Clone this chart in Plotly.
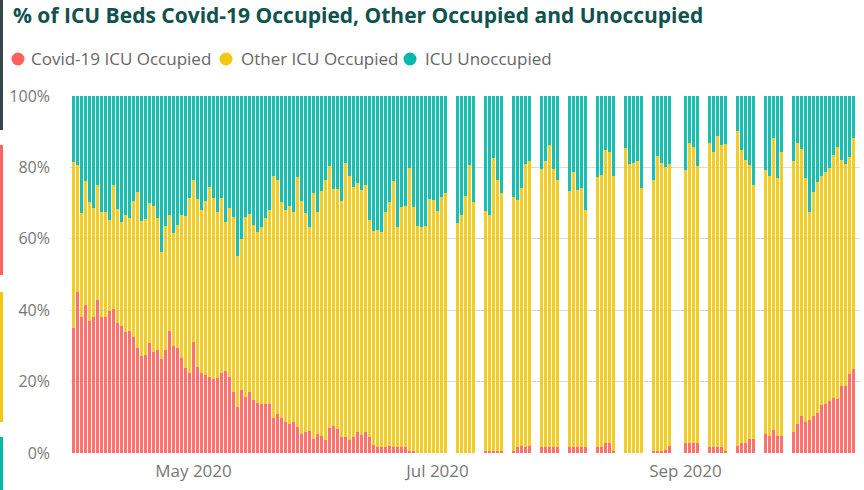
import pandas as pd
import plotly.graph_objects as go

# Reporting days: daily to 3 Jul, weekdays only (bank holiday 31 Aug skipped), daily again from 28 Sep
daily_spring = pd.date_range("2020-04-01", "2020-07-03")
weekday_summer = [d for d in pd.bdate_range("2020-07-06", "2020-09-25")
                  if d != pd.Timestamp("2020-08-31")]
daily_autumn = pd.date_range("2020-09-28", "2020-10-13")
dates = list(daily_spring) + list(weekday_summer) + list(daily_autumn)

# % of ICU beds occupied by Covid-19 patients
covid_pct = [
    35.0, 45.2, 38.0, 41.5, 37.0, 38.2, 42.9, 38.2, 38.2, 39.8,
    40.4, 36.4, 35.7, 34.0, 34.2, 32.6, 29.4, 27.3, 27.5, 30.8,
    28.2, 28.9, 26.4, 28.8, 34.2, 30.1, 29.5, 26.7, 23.8, 22.4,
    31.0, 24.2, 22.5, 21.9, 21.3, 20.8, 21.0, 22.5, 23.0, 21.4,
    17.2, 12.8, 17.7, 15.7, 17.1, 14.9, 14.0, 13.7, 13.6, 13.6,
    9.8, 10.9, 9.8, 8.7, 8.0, 8.6, 7.4, 5.3, 5.8, 6.2,
    4.0, 5.3, 4.8, 3.6, 7.0, 7.7, 6.6, 4.5, 4.5, 3.7,
    4.5, 5.8, 5.1, 5.8, 4.5, 2.3, 1.6, 1.6, 1.6, 2.0,
    1.6, 1.6, 1.6, 1.6, 0.7, 0.7, 0.0, 0.0, 0.0, 0.0,
    0.0, 0.0, 0.0, 0.0,
    # weekdays from 6 Jul
    0.0, 0.0, 0.0, 0.0, 0.0,
    0.7, 0.7, 0.7, 0.7, 0.7,
    0.6, 1.7, 1.9, 1.7, 1.9,
    1.6, 1.6, 1.6, 1.6, 1.6,
    1.6, 1.6, 1.6, 1.6, 1.6,
    1.8, 1.8, 2.8, 2.8, 0.6,
    0.0, 0.0, 0.0, 0.0, 0.0,
    0.6, 0.6, 0.6, 0.8, 1.9,
    2.8, 2.8, 2.8, 2.8,
    1.7, 1.7, 1.7, 1.7, 0.6,
    2.0, 2.9, 2.9, 4.0, 4.0,
    5.3, 4.8, 6.4, 4.8, 4.8,
    # daily from 28 Sep
    6.0, 8.2, 10.4, 8.8, 9.3, 10.5, 11.2, 13.5,
    13.8, 14.7, 15.4, 15.2, 18.8, 18.8, 22.2, 23.5,
]

# % of ICU beds occupied in total (Covid-19 + other patients)
occupied_pct = [
    81.5, 80.6, 67.1, 76.2, 70.3, 68.5, 75.2, 67.4, 67.4, 65.2,
    75.2, 68.3, 64.8, 66.6, 65.7, 70.6, 73.0, 65.0, 65.6, 69.9,
    69.2, 65.9, 56.2, 63.7, 66.6, 61.7, 63.8, 66.6, 66.4, 71.5,
    76.6, 71.1, 68.0, 70.6, 74.6, 71.5, 67.5, 71.5, 64.6, 68.5,
    66.0, 55.2, 59.9, 66.0, 66.9, 63.8, 62.0, 63.2, 65.7, 68.2,
    77.6, 76.4, 70.3, 68.2, 69.2, 67.5, 77.2, 70.6, 67.3, 63.2,
    72.9, 67.5, 73.4, 76.6, 80.5, 73.9, 73.9, 70.6, 81.1, 77.6,
    74.4, 75.5, 73.6, 75.2, 65.2, 62.3, 62.4, 62.0, 67.4, 70.4,
    76.1, 63.2, 69.0, 69.2, 79.7, 69.0, 63.7, 63.4, 63.5, 71.1,
    70.8, 67.8, 71.8, 72.7,
    # weekdays from 6 Jul
    64.3, 66.7, 72.1, 80.6, 70.2,
    67.9, 66.6, 82.6, 76.4, 72.8,
    71.6, 70.8, 74.3, 80.9, 81.8,
    79.5, 81.8, 86.4, 79.6, 76.4,
    73.4, 78.7, 73.8, 74.3, 68.2,
    77.2, 77.8, 85.0, 84.2, 77.5,
    85.3, 80.9, 81.1, 81.8, 74.3,
    76.4, 83.1, 81.3, 80.1, 80.9,
    79.2, 86.7, 85.7, 80.3,
    86.7, 84.2, 88.8, 86.4, 86.5,
    90.2, 85.0, 82.2, 80.8, 75.2,
    79.2, 77.6, 88.1, 76.9, 84.3,
    # daily from 28 Sep
    81.8, 86.7, 85.1, 76.9, 67.4, 73.2, 76.0, 77.5,
    78.6, 79.9, 83.4, 85.7, 82.0, 80.9, 82.9, 88.1,
]

assert len(dates) == len(covid_pct) == len(occupied_pct)

other_pct = [round(t - c, 1) for t, c in zip(occupied_pct, covid_pct)]
unoccupied_pct = [round(100 - t, 1) for t in occupied_pct]

series_names = ["Covid-19 ICU Occupied", "Other ICU Occupied", "ICU Unoccupied"]
series_colors = ["#FD625E", "#F2C80F", "#01B8AA"]
series_values = [covid_pct, other_pct, unoccupied_pct]

y_ticks = [0, 20, 40, 60, 80, 100]
y_tick_text = ["0%", "20%", "40%", "60%", "80%", "100%"]

W, H = 864, 490
M_L, M_R, M_T, M_B = 70, 4, 96, 37
PW, PH = W - M_L - M_R, H - M_T - M_B
FONT = "Open Sans"

# 4 px per day; range chosen so every 3 px bar and 1 px gap lands on whole pixels
PX_PER_DAY = 4.0
first_day = pd.Timestamp("2020-04-01")
x_start = first_day - pd.Timedelta(days=3.5 / PX_PER_DAY)
x_end = x_start + pd.Timedelta(days=PW / PX_PER_DAY)


def px_x(x):
    return (x - M_L) / PW


def px_y(y):
    return (H - M_B - y) / PH


fig = go.Figure()
for name, color, vals in zip(series_names, series_colors, series_values):
    fig.add_trace(go.Bar(
        x=dates, y=vals, name=name, showlegend=False,
        marker=dict(color=color, opacity=0.9, line=dict(width=0)),
        hovertemplate="%{x|%d %b %Y}<br>" + name + ": %{y:.1f}%<extra></extra>",
    ))

shapes = []
annotations = []

# legend: coloured dots with labels
legend_items = [(18, 29), (226, 239), (410, 423)]
for (cx, tx), name, color in zip(legend_items, series_names, series_colors):
    shapes.append(dict(type="circle", xref="paper", yref="paper",
                       x0=px_x(cx - 6.5), x1=px_x(cx + 6.5),
                       y0=px_y(59 + 6.5), y1=px_y(59 - 6.5),
                       fillcolor=color, line=dict(width=0)))
    annotations.append(dict(text=name, xref="paper", yref="paper",
                            x=px_x(tx), y=px_y(59), xanchor="left", yanchor="middle",
                            showarrow=False,
                            font=dict(family=FONT, size=17, color="#666666")))

# title
annotations.append(dict(text="<b>% of ICU Beds Covid-19 Occupied, Other Occupied and Unoccupied</b>",
                        xref="paper", yref="paper", x=px_x(11), y=px_y(15),
                        xanchor="left", yanchor="middle", showarrow=False,
                        font=dict(family=FONT, size=21, color="#0F524E")))

# coloured page strips along the left edge
for y0, y1, color in [(0, 130, "#374649"), (145, 275, "#FD625E"),
                      (292, 422, "#F2C80F"), (437, 490, "#01B8AA")]:
    shapes.append(dict(type="rect", xref="paper", yref="paper",
                       x0=px_x(0), x1=px_x(3), y0=px_y(y1), y1=px_y(y0),
                       fillcolor=color, line=dict(width=0)))

fig.update_layout(
    width=W, height=H,
    margin=dict(l=M_L, r=M_R, t=M_T, b=M_B),
    paper_bgcolor="white", plot_bgcolor="white",
    barmode="stack", barnorm="percent", bargap=0.25,
    showlegend=False,
    shapes=shapes, annotations=annotations,
    font=dict(family=FONT, color="#777777"),
    xaxis=dict(
        type="date",
        range=[x_start, x_end],
        tick0="2020-05-01", dtick="M2", tickformat="%b %Y",
        showgrid=False, zeroline=False, showline=False, ticks="",
        ticklabelstandoff=6,
        tickfont=dict(family=FONT, size=17, color="#777777"),
    ),
    yaxis=dict(
        range=[0, 100], tickmode="array", tickvals=y_ticks, ticktext=y_tick_text,
        showgrid=True, gridcolor="#DADADA", gridwidth=1,
        zeroline=False, showline=False, ticks="",
        ticklabelstandoff=19,
        tickfont=dict(family=FONT, size=16, color="#777777"),
    ),
)

fig.write_html("out.html")
